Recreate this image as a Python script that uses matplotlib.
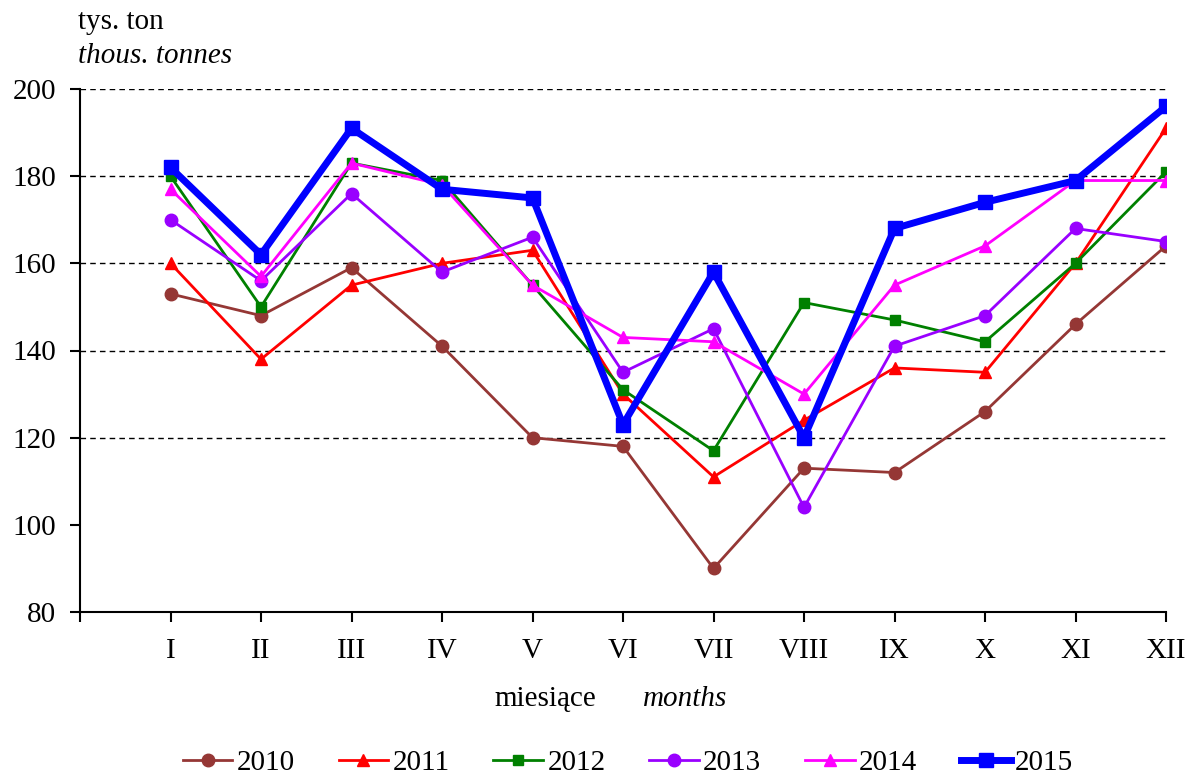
import matplotlib
matplotlib.use("Agg")
import matplotlib.pyplot as plt

months = ["I", "II", "III", "IV", "V", "VI", "VII", "VIII", "IX", "X", "XI", "XII"]
years = ["2010", "2011", "2012", "2013", "2014", "2015"]
v2010 = [153, 148, 159, 141, 120, 118, 90, 113, 112, 126, 146, 164]
v2011 = [160, 138, 155, 160, 163, 130, 111, 124, 136, 135, 160, 191]
v2012 = [180, 150, 183, 179, 155, 131, 117, 151, 147, 142, 160, 181]
v2013 = [170, 156, 176, 158, 166, 135, 145, 104, 141, 148, 168, 165]
v2014 = [177, 157, 183, 178, 155, 143, 142, 130, 155, 164, 179, 179]
v2015 = [182, 162, 191, 177, 175, 123, 158, 120, 168, 174, 179, 196]
series = [v2010, v2011, v2012, v2013, v2014, v2015]

styles = [
    dict(color="#953735", marker="o", lw=2.0, ms=9),
    dict(color="#FF0000", marker="^", lw=2.0, ms=9),
    dict(color="#008000", marker="s", lw=2.0, ms=7.5),
    dict(color="#9900FF", marker="o", lw=2.0, ms=9),
    dict(color="#FF00FF", marker="^", lw=2.0, ms=9),
    dict(color="#0000FF", marker="s", lw=5.0, ms=10),
]

plt.rcParams['font.family'] = ['Liberation Serif', 'DejaVu Serif']

fig = plt.figure(figsize=(11.9, 7.76), dpi=100)
ax = fig.add_axes([80/1190, 1 - 612/776, (1166-80)/1190, (612-89)/776])

x = list(range(1, 13))
for yr, vals, st in zip(years, series, styles):
    ax.plot(x, vals, color=st["color"], marker=st["marker"], lw=st["lw"],
            ms=st["ms"], label=yr, zorder=3 if yr != "2015" else 4)

ax.set_xlim(0, 12)
ax.set_ylim(80, 200)
ax.set_yticks(range(80, 201, 20))
ax.set_xticks([0] + x)
ax.set_xticklabels([""] + months)
for yv in range(120, 201, 20):
    ax.axhline(yv, color="black", lw=1.0, ls=(0, (4, 3)), zorder=1)

ax.spines["top"].set_visible(False)
ax.spines["right"].set_visible(False)
ax.spines["left"].set_linewidth(1.5)
ax.spines["bottom"].set_linewidth(1.5)
ax.tick_params(axis="both", labelsize=21, direction="out", length=7, width=1.5)
ax.tick_params(axis="x", pad=12)
ax.tick_params(axis="y", pad=10)

fig.text(78/1190, 1 - 22/776, "tys. ton", fontsize=21, ha="left", va="center")
fig.text(78/1190, 1 - 56/776, "thous. tonnes", fontsize=21, ha="left", va="center", style="italic")
fig.text(545/1190, 1 - 699/776, "miesiące", fontsize=21, ha="center", va="center")
fig.text(685/1190, 1 - 699/776, "months", fontsize=21, ha="center", va="center", style="italic")

fig.legend(loc="center", bbox_to_anchor=(628/1190, 1 - 763/776), ncol=6, frameon=False,
           fontsize=21, handlelength=1.7, handletextpad=0.15, columnspacing=1.5,
           borderaxespad=0)

fig.savefig("out.png", dpi=100)
